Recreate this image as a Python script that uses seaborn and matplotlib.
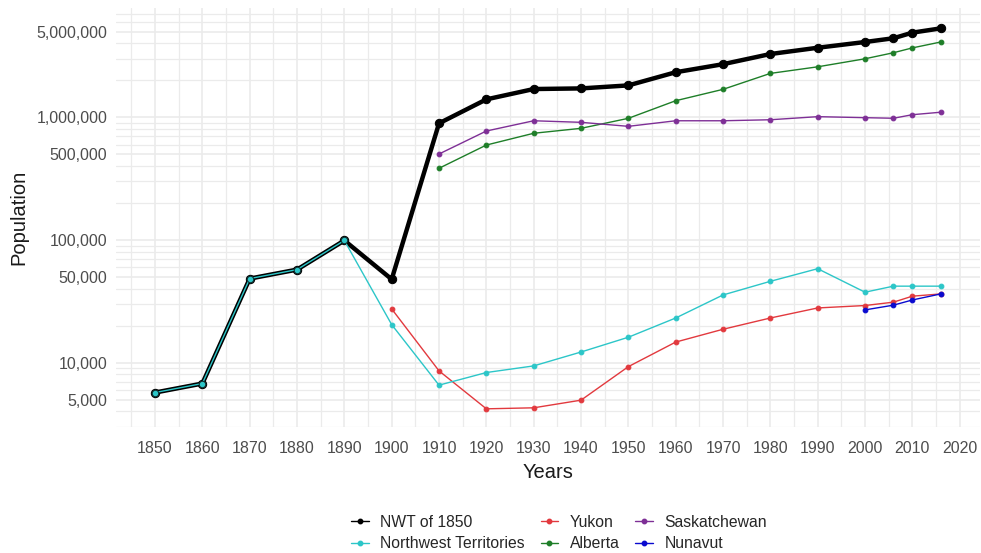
import numpy as np
import pandas as pd
import matplotlib
matplotlib.use("Agg")
import matplotlib.pyplot as plt
import matplotlib.ticker as mticker
from matplotlib.lines import Line2D
import seaborn as sns

# census years
YEARS_EARLY = [1850, 1860, 1870, 1880, 1890]
YEARS_ALL = [1850, 1860, 1870, 1880, 1890, 1900, 1910, 1920, 1930, 1940, 1950,
             1960, 1970, 1980, 1990, 2000, 2006, 2010, 2016]
YEARS_1900 = YEARS_ALL[5:]
YEARS_1910 = YEARS_ALL[6:]
YEARS_NU = [2000, 2006, 2010, 2016]

# population values
nwt_1850 = [5700, 6750, 48400, 57300, 99000, 47800, 893000, 1400000, 1700000,
            1720000, 1820000, 2330000, 2710000, 3280000, 3690000, 4110000,
            4410000, 4900000, 5310000]
northwest_territories = [5700, 6750, 48400, 57300, 99000, 20400, 6550, 8300,
                         9400, 12200, 16100, 23100, 35600, 46000, 58300, 37500,
                         42000, 42000, 42000]
yukon = [27400, 8560, 4200, 4280, 4940, 9270, 14700, 18700, 23100, 27900,
         29200, 31100, 34800, 36300]
alberta = [384000, 594000, 741000, 813000, 981000, 1365000, 1690000, 2280000,
           2580000, 3000000, 3360000, 3680000, 4110000]
saskatchewan = [502000, 773000, 937000, 910000, 844000, 937000, 937000, 955000,
                1012000, 993000, 982000, 1050000, 1100000]
nunavut = [26900, 29400, 32400, 36300]

SERIES = ["NWT of 1850", "Northwest Territories", "Yukon", "Alberta",
          "Saskatchewan", "Nunavut"]
COLORS = {"NWT of 1850": "#000000", "Northwest Territories": "#2CC6C8",
          "Yukon": "#E2393E", "Alberta": "#1E7E28",
          "Saskatchewan": "#7E2F96", "Nunavut": "#0A0ACF"}

df = pd.concat([
    pd.DataFrame({"year": YEARS_ALL, "pop": nwt_1850, "region": "NWT of 1850"}),
    pd.DataFrame({"year": YEARS_ALL, "pop": northwest_territories, "region": "Northwest Territories"}),
    pd.DataFrame({"year": YEARS_1900, "pop": yukon, "region": "Yukon"}),
    pd.DataFrame({"year": YEARS_1910, "pop": alberta, "region": "Alberta"}),
    pd.DataFrame({"year": YEARS_1910, "pop": saskatchewan, "region": "Saskatchewan"}),
    pd.DataFrame({"year": YEARS_NU, "pop": nunavut, "region": "Nunavut"}),
])

sns.set_theme(style="white")
plt.rcParams["font.family"] = ["Liberation Sans", "DejaVu Sans"]

fig, ax = plt.subplots(figsize=(9.81, 5.53), dpi=100)
fig.subplots_adjust(left=0.118, right=0.999, top=0.9855, bottom=0.228)

# thick black line first, other series drawn on top
sub = df[df.region == "NWT of 1850"]
sns.lineplot(data=sub, x="year", y="pop", ax=ax, color="black", linewidth=3.2,
             marker="o", markersize=6.0, markeredgecolor="black", legend=False)
for name in ["Yukon", "Alberta", "Saskatchewan", "Nunavut", "Northwest Territories"]:
    sub = df[df.region == name]
    sns.lineplot(data=sub, x="year", y="pop", ax=ax, color=COLORS[name],
                 linewidth=1.0, marker="o", markersize=3.4,
                 markeredgecolor=COLORS[name], legend=False)

# outlined markers for the shared early years
early = df[(df.region == "Northwest Territories") & (df.year.isin(YEARS_EARLY))]
ax.scatter(early["year"], early["pop"], s=22, color=COLORS["Northwest Territories"],
           edgecolor="#103030", linewidth=0.8, zorder=5)

ax.set_yscale("log")
ax.set_ylim(2990, 7.78e6)
ax.set_xlim(1841.7, 2024.3)

ax.yaxis.set_major_locator(mticker.FixedLocator([5000, 10000, 50000, 100000, 500000, 1000000, 5000000]))
ax.yaxis.set_major_formatter(mticker.FuncFormatter(lambda v, p: f"{int(round(v)):,}"))
ax.yaxis.set_minor_locator(mticker.LogLocator(base=10, subs=np.arange(1, 10), numticks=20))
ax.yaxis.set_minor_formatter(mticker.NullFormatter())
ax.xaxis.set_major_locator(mticker.MultipleLocator(10))
ax.xaxis.set_minor_locator(mticker.MultipleLocator(5))

ax.grid(which="major", color="#EBEBEB", linewidth=1.2)
ax.grid(which="minor", color="#EBEBEB", linewidth=0.9)
ax.set_axisbelow(True)
for s in ax.spines.values():
    s.set_visible(False)
ax.tick_params(which="both", length=0, labelsize=11.5, labelcolor="#4D4D4D")
ax.tick_params(axis="y", pad=6)
ax.tick_params(axis="x", pad=10)

ax.set_xlabel("Years", fontsize=14.5, color="#1A1A1A", labelpad=5)
ax.set_ylabel("Population", fontsize=14.5, color="#1A1A1A", labelpad=6)

handles = [Line2D([0], [0], color=COLORS[n], linewidth=1.0, marker="o",
                  markersize=3.2) for n in SERIES]
fig.legend(handles, SERIES, loc="center", bbox_to_anchor=(0.570, 0.036),
           ncol=3, frameon=False, fontsize=11.3, handlelength=1.1,
           handletextpad=0.75, columnspacing=1.0, labelspacing=0.4)

fig.savefig("out.png", dpi=100)
